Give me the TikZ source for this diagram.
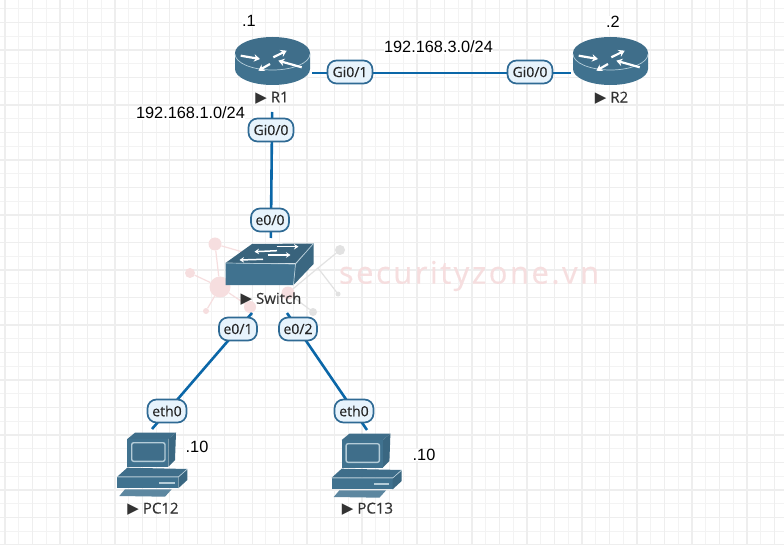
\documentclass[tikz,border=0pt]{standalone}
\usepackage{fontspec}
\setmainfont{Liberation Sans}
\newfontfamily\portfont[FakeBold=0.25]{Open Sans}
\newfontfamily\markfont[LetterSpace=8,FakeBold=0.3]{Open Sans}
\newfontfamily\symfont{DejaVu Sans}
\usepackage{tikz}
\usetikzlibrary{arrows.meta}
\usetikzlibrary{positioning}
\usetikzlibrary{calc}
\definecolor{iconblue}{HTML}{40728F}
\definecolor{icontop}{HTML}{3F6E8A}
\definecolor{iconedge}{HTML}{B4CCD8}
\definecolor{linkblue}{HTML}{0B67A8}
\definecolor{portfill}{HTML}{E7F3FC}
\definecolor{portline}{HTML}{2F6A94}
\definecolor{gridline}{HTML}{EEEEEE}
\definecolor{gridminor}{HTML}{F3F3F3}
\definecolor{markpink}{HTML}{F6DEDF}
\definecolor{markgray}{HTML}{E2E2E2}
\tikzset{
  devbox/.style = {rectangle, inner sep=0pt, outer sep=0pt},
  link/.style = {draw=linkblue, line width=2.6pt},
  port/.style = {rectangle, rounded corners=9pt, draw=portline, fill=portfill,
    line width=1.7pt, inner sep=0pt, minimum height=23pt, text=black!85,
    font=\portfont\fontsize{14}{14}\selectfont},% interface tag on a link
  devname/.style = {inner sep=0pt, text=black!80,
    font=\portfont\fontsize{15}{15}\selectfont},
  addr/.style = {fill=white, inner sep=0.6pt, font=\fontsize{16.3}{16}\selectfont},
  whitearrow/.style = {draw=white, line width=1.5pt, -{Stealth[length=4.5pt,width=5.5pt]}},
  fatarrow/.style = {draw=white, line width=2.2pt, -{Stealth[length=6pt,width=7.5pt]}},
  dot/.style = {circle, inner sep=0pt, fill=markpink},
  dotg/.style = {circle, inner sep=0pt, fill=markgray},
  router/.pic = {
    \fill[iconblue] (-37.5,-9) -- (-37.5,7) arc[start angle=180,end angle=0,x radius=37.5,y radius=16]
      -- (37.5,-9) -- cycle;
    \fill[icontop] (0,-9) ellipse[x radius=37.5,y radius=16];
    \draw[iconedge,line width=0.7pt] (-37.5,-8) arc[start angle=180,end angle=0,x radius=37.5,y radius=16];
    \draw[fatarrow] (-31.8,-6.3) -- (-12.5,-3);
    \draw[fatarrow] (0.8,-4.7) -- (14.2,-11.3);
    \draw[fatarrow] (29.2,5.3) -- (5.8,-1.3);
    \draw[fatarrow] (-2.5,2) -- (-14.2,8.7);
  },
  switchbox/.pic = {
    \fill[icontop!90!black] (-46,-1) -- (-19.5,-20) -- (42,-20.5) -- (24,-1) -- cycle;
    \fill[iconblue] (-46,-1) -- (24,0) -- (22,21) -- (-46,21) -- cycle;
    \fill[iconblue!90!black] (24,0) -- (42,-20.5) -- (42,0) -- (22,21) -- cycle;
    \draw[iconedge,line width=0.7pt] (-46,-1) -- (24,0) -- (22,21) (24,0) -- (42,-20.5);
    \draw[whitearrow] (5,-17.3) -- (27,-17.3);
    \draw[whitearrow] (5.5,-13.3) -- (-17,-12.3);
    \draw[whitearrow] (-4,-9) -- (19,-9);
    \draw[whitearrow] (-8.5,-4.7) -- (-32,-4);
  },
  pcbox/.pic = {
    \fill[icontop] (-24.7,-22.7) -- (-17,-29) -- (24,-29) -- (16.3,-22.7) -- cycle;
    \fill[iconblue!90!black] (16.3,-22.7) -- (24,-29) -- (23,-1.7) -- (16.3,5) -- cycle;
    \fill[iconblue] (-24.7,-22.7) rectangle (16.3,5);
    \draw[iconedge,line width=1.4pt,rounded corners=2pt,fill=icontop] (-20.3,-19) rectangle (13,-0.4);
    \fill[icontop] (-34.7,15) -- (-24.7,6) -- (35.3,7.3) -- (26.3,15) -- cycle;
    \fill[iconblue] (-34.7,15.6) rectangle (26.3,26.6);
    \fill[iconblue!90!black] (26.3,15.6) -- (35.3,7.8) -- (35.3,18.3) -- (26.3,26.6) -- cycle;
    \draw[iconedge,line width=0.6pt] (-34.7,15.3) -- (26.3,15.3) -- (35.3,7.3);
    \fill[iconedge] (7.3,20) rectangle (23,22);
    \fill[iconblue!85!white] (-32.7,34.3) -- (-27,27.6) -- (19.7,27.6) -- (13,35) -- cycle;
  }
}

\begin{document}
\begin{tikzpicture}[x=1pt,y=-1pt]
\useasboundingbox (0,0) rectangle (784,545);
\clip (0,0) rectangle (784,545);
\fill[white] (0,0) rectangle (784,545);

% background grid
\foreach \i in {0,...,57} {
  \draw[gridminor,line width=1pt] ({4.9+13.74*\i},0) -- ({4.9+13.74*\i},545);
}
\foreach \i in {0,...,39} {
  \draw[gridminor,line width=1pt] (0,{9+13.74*\i}) -- (784,{9+13.74*\i});
}
\foreach \i in {0,...,28} {
  \draw[gridline,line width=1.4pt] ({4.9+27.48*\i},0) -- ({4.9+27.48*\i},545);
}
\foreach \i in {0,...,19} {
  \draw[gridline,line width=1.4pt] (0,{22.7+27.48*\i}) -- (784,{22.7+27.48*\i});
}

% logo behind the switch
\node[dot,minimum size=21pt] (hub) at (220,287) {};
\node[dot,minimum size=13pt] (m1) at (215,244) {};
\node[dot,minimum size=10pt] (m2) at (190,273) {};
\node[dot,minimum size=6pt] (m3) at (206,311) {};
\node[dot,minimum size=12pt] (m4) at (250,307) {};
\node[dot,minimum size=13pt] (m5) at (288,293) {};
\node[dotg,minimum size=10pt] (g1) at (340,250) {};
\node[dotg,minimum size=5pt] (g2) at (338,294) {};
\node[dotg,minimum size=8pt] (g3) at (313,312) {};
\coordinate (gj) at (318,268);
\draw[markpink,line width=1.2pt] (hub) -- (m1) (m1) -- (260,257);
\draw[markpink,line width=1.2pt] (hub) -- (m2) (hub) -- (m3) (hub) -- (m4);
\draw[markgray,line width=1.2pt] (g1) -- (gj) (gj) -- (g2) (m5) -- (g3) (gj) -- (m5);
\node[inner sep=0pt,text=markpink,font=\markfont\fontsize{31}{31}\selectfont] (brand) at (469,276) {securityzone.vn};

% links
\node[devbox,minimum width=79pt,minimum height=78pt] (R1) at (272.5,73) {};
\node[devbox,minimum width=79pt,minimum height=78pt] (R2) at (610.5,73) {};
\node[devbox,minimum width=93pt,minimum height=75pt] (Switch) at (270.5,275.5) {};
\node[devbox,minimum width=72pt,minimum height=90pt] (PC12) at (152,474) {};
\node[devbox,minimum width=72pt,minimum height=90pt] (PC13) at (367,475) {};

\draw[link] (R1) -- (R2);
\draw[link] (R1) -- (Switch);
\draw[link] ([xshift=-18.5pt]Switch.south) -- (PC12.north);
\draw[link] ([xshift=16.5pt]Switch.south) -- (PC13.north);

\node[port,minimum width=45pt] (r1g1) at (350,72) {Gi0/1};
\node[port,minimum width=45pt] (r2g0) at (530,72) {Gi0/0};
\node[port,minimum width=45pt] (r1g0) at (271,130) {Gi0/0};
\node[port,minimum width=38pt] (swe0) at (270,220) {e0/0};
\node[port,minimum width=38pt] (swe1) at (238,329) {e0/1};
\node[port,minimum width=38pt] (swe2) at (298,329) {e0/2};
\node[port,minimum width=39pt] (pc12e) at (167,411) {eth0};
\node[port,minimum width=39pt] (pc13e) at (354,411) {eth0};

% devices
\pic at (272.5,62) {router};
\pic at (610.5,62) {router};
\pic at (271.5,264) {switchbox};
\pic at (152,461.7) {pcbox};
\pic at (366.4,462.7) {pcbox};

\node[devname] (nR1) at (272,98) {{\symfont\fontsize{15}{15}\selectfont ▶} R1};
\node[devname] (nR2) at (611.5,98) {{\symfont\fontsize{15}{15}\selectfont ▶} R2};
\node[devname] (nSw) at (271,299) {{\symfont\fontsize{15}{15}\selectfont ▶} Switch};
\node[devname] (nP12) at (153,509) {{\symfont\fontsize{15}{15}\selectfont ▶} PC12};
\node[devname] (nP13) at (367.5,509) {{\symfont\fontsize{15}{15}\selectfont ▶} PC13};

% addressing
\node[addr] (netA) at (438.5,47) {192.168.3.0/24};
\node[addr] (netB) at (190.5,113) {192.168.1.0/24};
\node[addr] (hR1) at (249,21) {.1};
\node[addr] (hR2) at (613,22) {.2};
\node[addr] (hP12) at (197,447) {.10};
\node[addr] (hP13) at (424,455) {.10};
\end{tikzpicture}
\end{document}
